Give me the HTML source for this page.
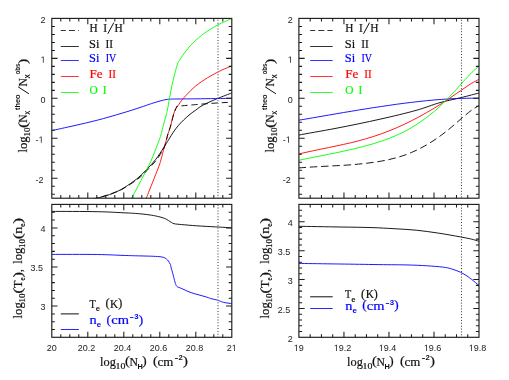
<!DOCTYPE html>
<html><head><meta charset="utf-8"><title>plot</title>
<style>html,body{margin:0;padding:0;background:#fff}svg{display:block;will-change:transform}text{font-family:"Liberation Sans",sans-serif}.s{font-family:"Liberation Serif",serif;stroke-width:0.2px;paint-order:stroke}.b{font-family:"Liberation Sans",sans-serif;font-weight:bold}.n{font-family:"Liberation Sans",sans-serif}</style></head><body>
<svg width="509" height="380" viewBox="0 0 509 380">
<rect width="509" height="380" fill="#fff"/>
<clipPath id="c1"><rect x="51.8" y="18.4" width="180.0" height="179.8"/></clipPath>
<clipPath id="c2"><rect x="51.8" y="204.4" width="180.0" height="132.9"/></clipPath>
<clipPath id="c3"><rect x="298.9" y="18.4" width="180.1" height="179.8"/></clipPath>
<clipPath id="c4"><rect x="298.9" y="204.4" width="180.1" height="132.9"/></clipPath>
<path d="M92.0 199.8C92.8 199.5 95.7 198.6 97.0 198.2C98.3 197.8 97.9 198.0 100.0 197.4C102.1 196.8 106.3 195.7 109.5 194.6C112.7 193.5 116.3 191.8 118.9 190.6C121.5 189.4 122.0 189.1 125.0 187.2C128.0 185.2 133.2 181.8 136.8 178.9C140.4 176.0 143.1 173.2 146.3 169.9C149.5 166.6 152.9 163.0 155.8 159.3C158.7 155.6 161.5 150.9 163.7 147.6C165.8 144.3 167.1 142.2 168.7 139.6C170.3 137.0 171.8 134.4 173.4 132.1C175.0 129.8 176.4 127.8 178.1 125.8C179.8 123.8 181.7 121.8 183.7 119.9C185.7 118.0 188.0 116.0 190.0 114.3C192.0 112.6 193.7 111.6 195.9 110.0C198.1 108.4 199.8 106.8 203.4 104.9C207.0 103.0 212.6 100.6 217.3 98.6C222.1 96.6 229.5 93.9 231.9 92.9" fill="none" stroke="#000" stroke-width="0.90" clip-path="url(#c1)"/>
<path d="M51.7 130.6C55.4 129.8 66.4 127.4 74.0 125.7C81.6 124.0 89.3 122.3 97.3 120.2C105.3 118.1 114.9 115.3 122.0 113.2C129.1 111.1 135.1 109.1 140.0 107.5C144.9 105.9 148.1 104.7 151.4 103.6C154.7 102.5 157.6 101.7 160.0 101.0C162.4 100.3 164.3 99.9 166.0 99.6C167.7 99.3 168.0 99.2 170.3 99.1C172.6 99.0 175.6 99.0 180.0 99.0C184.4 98.9 188.2 98.9 196.8 98.8C205.5 98.7 226.1 98.4 231.9 98.3" fill="none" stroke="#0000ff" stroke-width="0.90" clip-path="url(#c1)"/>
<path d="M144.9 202.0C145.2 201.3 145.6 200.0 146.4 198.0C147.2 196.0 147.9 194.0 149.5 190.0C151.1 186.0 154.2 178.4 155.8 174.2C157.4 170.0 158.5 167.4 159.3 165.0C160.2 162.6 160.1 162.8 160.9 160.0C161.7 157.2 163.1 151.5 164.0 148.0C164.9 144.5 166.0 141.4 166.6 139.2C167.2 137.0 167.0 137.0 167.6 135.0C168.2 133.0 169.2 130.6 170.2 127.3C171.2 124.0 172.6 117.9 173.4 115.0C174.2 112.1 174.6 111.3 175.2 110.0C175.8 108.7 176.2 107.9 176.8 107.0C177.4 106.1 177.9 105.6 178.7 104.6C179.4 103.6 180.4 102.0 181.3 100.8C182.2 99.6 183.2 98.5 184.4 97.2C185.6 95.9 186.7 94.6 188.2 93.1C189.7 91.6 191.6 89.5 193.3 88.0C195.0 86.5 196.4 85.4 198.3 84.0C200.2 82.6 202.5 81.0 204.6 79.6C206.7 78.2 208.7 77.1 210.9 75.8C213.1 74.5 215.6 73.2 217.9 72.0C220.2 70.8 222.5 69.8 224.8 68.8C227.1 67.8 230.7 66.4 231.9 65.9" fill="none" stroke="#ff0000" stroke-width="0.90" clip-path="url(#c1)"/>
<path d="M129.7 202.0C130.0 201.3 130.8 200.0 131.8 198.0C132.9 196.0 133.6 194.6 136.0 190.0C138.4 185.4 143.7 175.3 146.3 170.3C148.9 165.3 149.9 163.4 151.4 160.0C152.9 156.6 154.1 153.3 155.4 150.0C156.7 146.7 158.3 142.5 159.2 140.0C160.1 137.5 160.1 137.7 160.9 135.0C161.7 132.3 162.9 126.9 163.8 123.6C164.7 120.3 165.6 117.3 166.2 115.0C166.8 112.7 166.8 112.8 167.4 110.0C168.0 107.2 168.7 102.7 169.5 98.4C170.3 94.2 171.1 89.0 172.1 84.5C173.1 80.0 174.5 74.9 175.4 71.5C176.3 68.1 176.7 66.0 177.5 64.0C178.3 62.0 178.9 61.3 180.0 59.6C181.1 57.9 182.4 55.8 183.8 53.9C185.2 52.0 186.6 50.1 188.2 48.2C189.8 46.3 191.6 44.2 193.3 42.5C195.0 40.8 196.4 39.7 198.3 38.1C200.2 36.5 202.5 34.5 204.6 33.0C206.7 31.5 208.7 30.4 210.9 29.0C213.1 27.6 215.6 26.0 217.9 24.8C220.2 23.6 222.5 22.8 224.8 21.7C227.1 20.6 230.7 18.9 231.9 18.4" fill="none" stroke="#00ff00" stroke-width="0.90" clip-path="url(#c1)"/>
<path d="M92.0 199.6C92.8 199.3 95.0 198.6 97.0 198.0C99.0 197.4 100.0 197.5 103.8 196.2C107.6 194.9 114.4 193.1 120.0 190.3C125.6 187.5 132.8 182.7 137.3 179.4C141.8 176.1 143.7 173.7 146.9 170.5C150.1 167.3 153.6 163.8 156.4 160.0C159.2 156.2 162.3 151.5 164.0 148.0C165.7 144.5 166.0 141.4 166.6 139.2C167.2 137.0 167.0 137.0 167.6 135.0C168.2 133.0 169.2 130.6 170.2 127.3C171.2 124.0 172.6 117.9 173.4 115.0C174.2 112.1 174.7 111.2 175.2 110.0C175.7 108.8 175.9 108.2 176.3 107.6C176.7 107.0 175.0 106.9 177.8 106.4C180.6 105.9 186.5 105.4 193.3 104.8C200.1 104.2 212.1 103.3 218.5 102.9C224.9 102.5 229.7 102.4 231.9 102.3" fill="none" stroke="#000" stroke-width="0.90" clip-path="url(#c1)" stroke-dasharray="6.3 3.7"/>
<path d="M51.7 211.4C59.3 211.4 85.0 211.4 97.3 211.7C109.6 211.9 118.7 212.6 125.8 212.9C132.9 213.2 135.7 213.4 140.0 213.8C144.3 214.2 148.2 214.7 151.4 215.2C154.6 215.7 156.7 216.2 158.9 216.7C161.1 217.2 163.0 217.8 164.6 218.4C166.2 219.0 167.3 219.8 168.4 220.5C169.5 221.2 170.3 221.8 171.2 222.3C172.2 222.8 172.4 223.3 174.1 223.7C175.8 224.1 177.9 224.2 181.7 224.6C185.5 224.9 191.1 225.4 196.8 225.8C202.5 226.2 210.0 226.6 215.8 226.9C221.7 227.2 229.2 227.7 231.9 227.8" fill="none" stroke="#000" stroke-width="0.90" clip-path="url(#c2)"/>
<path d="M51.7 254.4C59.3 254.4 85.0 254.3 97.3 254.5C109.6 254.7 118.7 255.3 125.8 255.5C132.9 255.7 135.7 255.8 140.0 255.9C144.3 256.0 148.2 256.1 151.4 256.2C154.6 256.4 156.9 256.4 158.9 256.6C160.9 256.8 162.4 257.0 163.7 257.4C165.0 257.8 165.7 258.5 166.5 259.1C167.3 259.7 167.8 260.1 168.4 261.0C169.0 261.9 169.8 263.2 170.3 264.4C170.8 265.6 170.8 266.3 171.2 268.0C171.7 269.7 172.5 272.2 173.1 274.6C173.7 277.0 174.4 280.2 175.0 282.2C175.6 284.2 176.0 285.4 176.9 286.4C177.8 287.4 178.3 287.1 180.7 288.1C183.1 289.1 186.8 291.1 191.1 292.6C195.4 294.1 202.8 295.9 206.3 297.0C209.8 298.1 210.1 298.4 212.0 298.9C213.9 299.4 215.8 299.6 217.7 300.2C219.6 300.8 220.9 301.7 223.3 302.3C225.7 302.9 230.5 303.4 231.9 303.6" fill="none" stroke="#0000ff" stroke-width="0.90" clip-path="url(#c2)"/>
<path d="M298.5 167.9C299.8 167.8 303.5 167.6 306.0 167.4C308.5 167.2 311.1 167.1 313.6 166.9C316.1 166.8 318.6 166.6 321.1 166.5C323.6 166.4 326.1 166.2 328.6 166.1C331.1 166.0 333.6 165.8 336.1 165.7C338.6 165.6 341.1 165.5 343.6 165.3C346.1 165.2 348.7 165.0 351.2 164.8C353.7 164.6 356.2 164.3 358.7 164.1C361.2 163.8 363.7 163.6 366.2 163.3C368.7 163.0 371.3 162.7 373.8 162.3C376.3 161.9 378.8 161.6 381.3 161.1C383.8 160.6 386.3 160.2 388.8 159.6C391.3 159.0 393.8 158.4 396.3 157.7C398.8 157.0 401.4 156.3 403.9 155.4C406.4 154.5 408.9 153.6 411.4 152.5C413.9 151.4 416.4 150.3 418.9 149.1C421.4 147.8 423.9 146.5 426.4 145.0C428.9 143.5 431.5 142.0 434.0 140.3C436.5 138.6 439.0 136.8 441.5 135.0C444.0 133.2 446.5 131.2 449.0 129.2C451.5 127.2 454.0 125.0 456.5 122.8C459.0 120.6 461.6 118.3 464.1 116.2C466.6 114.1 469.1 112.0 471.6 110.2C474.1 108.4 477.9 106.3 479.1 105.5" fill="none" stroke="#000" stroke-width="0.90" clip-path="url(#c3)" stroke-dasharray="7.5 3.8"/>
<path d="M298.5 135.1C304.8 133.9 322.4 130.9 336.0 128.3C349.6 125.7 366.7 122.2 380.0 119.2C393.3 116.2 406.0 113.2 416.0 110.4C426.0 107.6 432.5 104.7 440.0 102.6C447.5 100.5 454.7 99.2 461.2 97.6C467.7 96.0 476.1 93.7 479.1 93.0" fill="none" stroke="#000" stroke-width="0.90" clip-path="url(#c3)"/>
<path d="M298.5 120.2C299.8 120.0 303.5 119.4 306.0 119.0C308.5 118.6 311.1 118.1 313.6 117.7C316.1 117.3 318.6 116.8 321.1 116.4C323.6 116.0 326.1 115.5 328.6 115.1C331.1 114.7 333.6 114.2 336.1 113.8C338.6 113.4 341.1 112.9 343.6 112.5C346.1 112.1 348.7 111.7 351.2 111.3C353.7 110.9 356.2 110.4 358.7 110.0C361.2 109.6 363.7 109.2 366.2 108.8C368.7 108.4 371.3 108.0 373.8 107.6C376.3 107.2 378.8 106.9 381.3 106.5C383.8 106.1 386.3 105.8 388.8 105.4C391.3 105.0 393.8 104.7 396.3 104.3C398.8 103.9 401.4 103.6 403.9 103.3C406.4 103.0 408.9 102.7 411.4 102.4C413.9 102.1 416.4 101.8 418.9 101.5C421.4 101.2 423.9 101.0 426.4 100.7C428.9 100.5 431.5 100.2 434.0 100.0C436.5 99.8 439.0 99.6 441.5 99.4C444.0 99.2 446.5 99.1 449.0 98.9C451.5 98.8 454.0 98.6 456.5 98.5C459.0 98.4 461.6 98.3 464.1 98.3C466.6 98.2 469.1 98.2 471.6 98.2C474.1 98.2 477.9 98.2 479.1 98.2" fill="none" stroke="#0000ff" stroke-width="0.90" clip-path="url(#c3)"/>
<path d="M298.5 154.0C299.8 153.7 303.5 152.9 306.0 152.3C308.5 151.8 311.1 151.2 313.6 150.7C316.1 150.2 318.6 149.6 321.1 149.1C323.6 148.6 326.1 148.1 328.6 147.6C331.1 147.1 333.6 146.5 336.1 146.0C338.6 145.5 341.1 145.0 343.6 144.4C346.1 143.8 348.7 143.3 351.2 142.7C353.7 142.1 356.2 141.5 358.7 140.8C361.2 140.1 363.7 139.4 366.2 138.7C368.7 138.0 371.3 137.2 373.8 136.4C376.3 135.6 378.8 134.7 381.3 133.8C383.8 132.9 386.3 132.0 388.8 131.0C391.3 130.0 393.8 129.0 396.3 127.9C398.8 126.8 401.4 125.7 403.9 124.5C406.4 123.3 408.9 122.1 411.4 120.8C413.9 119.5 416.4 118.2 418.9 116.9C421.4 115.6 423.9 114.1 426.4 112.7C428.9 111.3 431.5 109.8 434.0 108.3C436.5 106.8 439.0 105.2 441.5 103.6C444.0 102.0 446.5 100.4 449.0 98.7C451.5 97.0 454.0 95.2 456.5 93.5C459.0 91.8 461.6 90.0 464.1 88.3C466.6 86.6 469.1 84.8 471.6 83.3C474.1 81.8 477.9 80.0 479.1 79.3" fill="none" stroke="#ff0000" stroke-width="0.90" clip-path="url(#c3)"/>
<path d="M298.5 160.3C299.8 160.1 303.5 159.3 306.0 158.8C308.5 158.3 311.1 157.8 313.6 157.3C316.1 156.8 318.6 156.3 321.1 155.8C323.6 155.3 326.1 154.8 328.6 154.3C331.1 153.8 333.6 153.3 336.1 152.8C338.6 152.3 341.1 151.8 343.6 151.2C346.1 150.6 348.7 150.1 351.2 149.5C353.7 148.9 356.2 148.3 358.7 147.7C361.2 147.1 363.7 146.4 366.2 145.7C368.7 145.0 371.3 144.3 373.8 143.6C376.3 142.8 378.8 142.0 381.3 141.2C383.8 140.3 386.3 139.5 388.8 138.5C391.3 137.5 393.8 136.5 396.3 135.4C398.8 134.3 401.4 133.1 403.9 131.8C406.4 130.5 408.9 129.2 411.4 127.7C413.9 126.2 416.4 124.7 418.9 123.0C421.4 121.3 423.9 119.5 426.4 117.6C428.9 115.7 431.5 113.7 434.0 111.6C436.5 109.5 439.0 107.2 441.5 104.8C444.0 102.4 446.5 99.9 449.0 97.3C451.5 94.7 454.0 92.0 456.5 89.2C459.0 86.4 461.6 83.5 464.1 80.7C466.6 78.0 469.1 75.2 471.6 72.7C474.1 70.2 477.9 67.0 479.1 65.9" fill="none" stroke="#00ff00" stroke-width="0.90" clip-path="url(#c3)"/>
<path d="M298.7 226.3C305.6 226.4 327.8 226.8 340.0 227.0C352.2 227.2 363.0 227.3 372.0 227.6C381.0 227.9 386.7 228.3 394.1 228.7C401.5 229.1 408.8 229.5 416.2 230.2C423.6 230.9 430.9 232.0 438.3 233.1C445.7 234.2 454.9 235.9 460.4 236.9C465.9 237.9 468.3 238.4 471.4 239.1C474.5 239.8 477.6 240.9 478.9 241.3" fill="none" stroke="#000" stroke-width="0.90" clip-path="url(#c4)"/>
<path d="M298.7 263.4C310.9 263.6 354.3 264.2 372.0 264.5C389.7 264.8 395.9 264.7 405.1 264.9C414.3 265.1 420.9 265.4 427.2 265.8C433.5 266.2 438.6 266.6 442.7 267.1C446.8 267.6 448.6 268.0 451.5 268.9C454.4 269.8 457.8 271.0 460.4 272.2C463.0 273.4 465.2 274.8 467.0 276.0C468.8 277.2 469.4 277.7 471.4 279.2C473.4 280.8 477.6 284.4 478.9 285.4" fill="none" stroke="#0000ff" stroke-width="0.90" clip-path="url(#c4)"/>
<line x1="218.00" y1="19.80" x2="218.00" y2="198.20" stroke="#9a9a9a" stroke-width="2.0" stroke-dasharray="1 1.87"/>
<line x1="218.00" y1="204.70" x2="218.00" y2="337.35" stroke="#9a9a9a" stroke-width="2.0" stroke-dasharray="1 1.87"/>
<line x1="461.45" y1="19.80" x2="461.45" y2="198.20" stroke="#2a2a2a" stroke-width="1.0" stroke-dasharray="1 1.85"/>
<line x1="461.45" y1="204.70" x2="461.45" y2="337.35" stroke="#2a2a2a" stroke-width="1.0" stroke-dasharray="1 1.88"/>
<rect x="51.8" y="18.4" width="180.0" height="179.8" fill="none" stroke="#1c1c1c" stroke-width="1.15"/>
<path d="M60.80 198.20v-3.1M60.80 18.45v3.1M69.80 198.20v-3.1M69.80 18.45v3.1M78.80 198.20v-3.1M78.80 18.45v3.1M87.80 198.20v-5.7M87.80 18.45v5.7M96.80 198.20v-3.1M96.80 18.45v3.1M105.80 198.20v-3.1M105.80 18.45v3.1M114.80 198.20v-3.1M114.80 18.45v3.1M123.80 198.20v-5.7M123.80 18.45v5.7M132.80 198.20v-3.1M132.80 18.45v3.1M141.80 198.20v-3.1M141.80 18.45v3.1M150.80 198.20v-3.1M150.80 18.45v3.1M159.80 198.20v-5.7M159.80 18.45v5.7M168.80 198.20v-3.1M168.80 18.45v3.1M177.80 198.20v-3.1M177.80 18.45v3.1M186.80 198.20v-3.1M186.80 18.45v3.1M195.80 198.20v-5.7M195.80 18.45v5.7M204.80 198.20v-3.1M204.80 18.45v3.1M213.80 198.20v-3.1M213.80 18.45v3.1M222.80 198.20v-3.1M222.80 18.45v3.1M51.80 194.21h3.1M231.80 194.21h-3.1M51.80 186.22h3.1M231.80 186.22h-3.1M51.80 178.23h5.7M231.80 178.23h-5.7M51.80 170.24h3.1M231.80 170.24h-3.1M51.80 162.25h3.1M231.80 162.25h-3.1M51.80 154.26h3.1M231.80 154.26h-3.1M51.80 146.27h3.1M231.80 146.27h-3.1M51.80 138.28h5.7M231.80 138.28h-5.7M51.80 130.29h3.1M231.80 130.29h-3.1M51.80 122.31h3.1M231.80 122.31h-3.1M51.80 114.32h3.1M231.80 114.32h-3.1M51.80 106.33h3.1M231.80 106.33h-3.1M51.80 98.34h5.7M231.80 98.34h-5.7M51.80 90.35h3.1M231.80 90.35h-3.1M51.80 82.36h3.1M231.80 82.36h-3.1M51.80 74.37h3.1M231.80 74.37h-3.1M51.80 66.38h3.1M231.80 66.38h-3.1M51.80 58.39h5.7M231.80 58.39h-5.7M51.80 50.41h3.1M231.80 50.41h-3.1M51.80 42.42h3.1M231.80 42.42h-3.1M51.80 34.43h3.1M231.80 34.43h-3.1M51.80 26.44h3.1M231.80 26.44h-3.1" fill="none" stroke="#1c1c1c" stroke-width="1.05"/>
<rect x="51.8" y="204.4" width="180.0" height="132.9" fill="none" stroke="#1c1c1c" stroke-width="1.15"/>
<path d="M60.80 337.35v-3.1M60.80 204.45v3.1M69.80 337.35v-3.1M69.80 204.45v3.1M78.80 337.35v-3.1M78.80 204.45v3.1M87.80 337.35v-5.7M87.80 204.45v5.7M96.80 337.35v-3.1M96.80 204.45v3.1M105.80 337.35v-3.1M105.80 204.45v3.1M114.80 337.35v-3.1M114.80 204.45v3.1M123.80 337.35v-5.7M123.80 204.45v5.7M132.80 337.35v-3.1M132.80 204.45v3.1M141.80 337.35v-3.1M141.80 204.45v3.1M150.80 337.35v-3.1M150.80 204.45v3.1M159.80 337.35v-5.7M159.80 204.45v5.7M168.80 337.35v-3.1M168.80 204.45v3.1M177.80 337.35v-3.1M177.80 204.45v3.1M186.80 337.35v-3.1M186.80 204.45v3.1M195.80 337.35v-5.7M195.80 204.45v5.7M204.80 337.35v-3.1M204.80 204.45v3.1M213.80 337.35v-3.1M213.80 204.45v3.1M222.80 337.35v-3.1M222.80 204.45v3.1M51.80 329.53h3.1M231.80 329.53h-3.1M51.80 321.71h3.1M231.80 321.71h-3.1M51.80 313.90h3.1M231.80 313.90h-3.1M51.80 306.08h5.7M231.80 306.08h-5.7M51.80 298.26h3.1M231.80 298.26h-3.1M51.80 290.44h3.1M231.80 290.44h-3.1M51.80 282.63h3.1M231.80 282.63h-3.1M51.80 274.81h3.1M231.80 274.81h-3.1M51.80 266.99h5.7M231.80 266.99h-5.7M51.80 259.17h3.1M231.80 259.17h-3.1M51.80 251.36h3.1M231.80 251.36h-3.1M51.80 243.54h3.1M231.80 243.54h-3.1M51.80 235.72h3.1M231.80 235.72h-3.1M51.80 227.90h5.7M231.80 227.90h-5.7M51.80 220.09h3.1M231.80 220.09h-3.1M51.80 212.27h3.1M231.80 212.27h-3.1" fill="none" stroke="#1c1c1c" stroke-width="1.05"/>
<rect x="298.9" y="18.4" width="180.1" height="179.8" fill="none" stroke="#1c1c1c" stroke-width="1.15"/>
<path d="M310.20 198.20v-3.1M310.20 18.45v3.1M321.46 198.20v-3.1M321.46 18.45v3.1M332.71 198.20v-3.1M332.71 18.45v3.1M343.96 198.20v-5.7M343.96 18.45v5.7M355.22 198.20v-3.1M355.22 18.45v3.1M366.47 198.20v-3.1M366.47 18.45v3.1M377.72 198.20v-3.1M377.72 18.45v3.1M388.98 198.20v-5.7M388.98 18.45v5.7M400.23 198.20v-3.1M400.23 18.45v3.1M411.48 198.20v-3.1M411.48 18.45v3.1M422.73 198.20v-3.1M422.73 18.45v3.1M433.99 198.20v-5.7M433.99 18.45v5.7M445.24 198.20v-3.1M445.24 18.45v3.1M456.49 198.20v-3.1M456.49 18.45v3.1M467.75 198.20v-3.1M467.75 18.45v3.1M298.95 194.21h3.1M479.00 194.21h-3.1M298.95 186.22h3.1M479.00 186.22h-3.1M298.95 178.23h5.7M479.00 178.23h-5.7M298.95 170.24h3.1M479.00 170.24h-3.1M298.95 162.25h3.1M479.00 162.25h-3.1M298.95 154.26h3.1M479.00 154.26h-3.1M298.95 146.27h3.1M479.00 146.27h-3.1M298.95 138.28h5.7M479.00 138.28h-5.7M298.95 130.29h3.1M479.00 130.29h-3.1M298.95 122.31h3.1M479.00 122.31h-3.1M298.95 114.32h3.1M479.00 114.32h-3.1M298.95 106.33h3.1M479.00 106.33h-3.1M298.95 98.34h5.7M479.00 98.34h-5.7M298.95 90.35h3.1M479.00 90.35h-3.1M298.95 82.36h3.1M479.00 82.36h-3.1M298.95 74.37h3.1M479.00 74.37h-3.1M298.95 66.38h3.1M479.00 66.38h-3.1M298.95 58.39h5.7M479.00 58.39h-5.7M298.95 50.41h3.1M479.00 50.41h-3.1M298.95 42.42h3.1M479.00 42.42h-3.1M298.95 34.43h3.1M479.00 34.43h-3.1M298.95 26.44h3.1M479.00 26.44h-3.1" fill="none" stroke="#1c1c1c" stroke-width="1.05"/>
<rect x="298.9" y="204.4" width="180.1" height="132.9" fill="none" stroke="#1c1c1c" stroke-width="1.15"/>
<path d="M310.20 337.35v-3.1M310.20 204.45v3.1M321.46 337.35v-3.1M321.46 204.45v3.1M332.71 337.35v-3.1M332.71 204.45v3.1M343.96 337.35v-5.7M343.96 204.45v5.7M355.22 337.35v-3.1M355.22 204.45v3.1M366.47 337.35v-3.1M366.47 204.45v3.1M377.72 337.35v-3.1M377.72 204.45v3.1M388.98 337.35v-5.7M388.98 204.45v5.7M400.23 337.35v-3.1M400.23 204.45v3.1M411.48 337.35v-3.1M411.48 204.45v3.1M422.73 337.35v-3.1M422.73 204.45v3.1M433.99 337.35v-5.7M433.99 204.45v5.7M445.24 337.35v-3.1M445.24 204.45v3.1M456.49 337.35v-3.1M456.49 204.45v3.1M467.75 337.35v-3.1M467.75 204.45v3.1M298.95 331.57h3.1M479.00 331.57h-3.1M298.95 325.79h3.1M479.00 325.79h-3.1M298.95 320.02h3.1M479.00 320.02h-3.1M298.95 314.24h3.1M479.00 314.24h-3.1M298.95 308.46h5.7M479.00 308.46h-5.7M298.95 302.68h3.1M479.00 302.68h-3.1M298.95 296.90h3.1M479.00 296.90h-3.1M298.95 291.12h3.1M479.00 291.12h-3.1M298.95 285.35h3.1M479.00 285.35h-3.1M298.95 279.57h5.7M479.00 279.57h-5.7M298.95 273.79h3.1M479.00 273.79h-3.1M298.95 268.01h3.1M479.00 268.01h-3.1M298.95 262.23h3.1M479.00 262.23h-3.1M298.95 256.45h3.1M479.00 256.45h-3.1M298.95 250.68h5.7M479.00 250.68h-5.7M298.95 244.90h3.1M479.00 244.90h-3.1M298.95 239.12h3.1M479.00 239.12h-3.1M298.95 233.34h3.1M479.00 233.34h-3.1M298.95 227.56h3.1M479.00 227.56h-3.1M298.95 221.78h5.7M479.00 221.78h-5.7M298.95 216.01h3.1M479.00 216.01h-3.1M298.95 210.23h3.1M479.00 210.23h-3.1" fill="none" stroke="#1c1c1c" stroke-width="1.05"/>
<text x="46.70" y="351.00" font-size="9.0" fill="#222">20</text>
<text x="77.69" y="351.00" font-size="9.0" fill="#222">20.2</text>
<text x="113.69" y="351.00" font-size="9.0" fill="#222">20.4</text>
<text x="149.69" y="351.00" font-size="9.0" fill="#222">20.6</text>
<text x="185.69" y="351.00" font-size="9.0" fill="#222">20.8</text>
<text x="226.70" y="351.00" font-size="9.0" fill="#222">2</text>
<path d="M233.96 351.00L233.96 345.56L232.57 346.56L232.57 345.81L234.03 344.81L234.76 344.81L234.76 351.00Z" fill="#222"/>
<path d="M296.11 351.00L296.11 345.56L294.71 346.56L294.71 345.81L296.18 344.81L296.90 344.81L296.90 351.00Z" fill="#222"/>
<text x="298.85" y="351.00" font-size="9.0" fill="#222">9</text>
<path d="M336.11 351.00L336.11 345.56L334.71 346.56L334.71 345.81L336.17 344.81L336.90 344.81L336.90 351.00Z" fill="#222"/>
<text x="338.85" y="351.00" font-size="9.0" fill="#222">9.2</text>
<path d="M381.11 351.00L381.11 345.56L379.71 346.56L379.71 345.81L381.17 344.81L381.90 344.81L381.90 351.00Z" fill="#222"/>
<text x="383.85" y="351.00" font-size="9.0" fill="#222">9.4</text>
<path d="M426.11 351.00L426.11 345.56L424.71 346.56L424.71 345.81L426.17 344.81L426.90 344.81L426.90 351.00Z" fill="#222"/>
<text x="428.85" y="351.00" font-size="9.0" fill="#222">9.6</text>
<path d="M471.11 351.00L471.11 345.56L469.71 346.56L469.71 345.81L471.17 344.81L471.90 344.81L471.90 351.00Z" fill="#222"/>
<text x="473.85" y="351.00" font-size="9.0" fill="#222">9.8</text>
<text x="40.60" y="22.85" font-size="9.0" fill="#222">2</text>
<path d="M42.86 62.79L42.86 57.36L41.46 58.36L41.46 57.61L42.93 56.60L43.65 56.60L43.65 62.79Z" fill="#222"/>
<text x="40.60" y="102.74" font-size="9.0" fill="#222">0</text>
<text x="35.59" y="142.68" font-size="9.0" fill="#222">-</text>
<path d="M40.85 142.68L40.85 137.25L39.45 138.24L39.45 137.50L40.92 136.49L41.65 136.49L41.65 142.68Z" fill="#222"/>
<text x="35.59" y="182.63" font-size="9.0" fill="#222">-2</text>
<text x="287.75" y="22.85" font-size="9.0" fill="#222">2</text>
<path d="M290.01 62.79L290.01 57.36L288.61 58.36L288.61 57.61L290.08 56.60L290.80 56.60L290.80 62.79Z" fill="#222"/>
<text x="287.75" y="102.74" font-size="9.0" fill="#222">0</text>
<text x="282.74" y="142.68" font-size="9.0" fill="#222">-</text>
<path d="M288.00 142.68L288.00 137.25L286.60 138.24L286.60 137.50L288.07 136.49L288.80 136.49L288.80 142.68Z" fill="#222"/>
<text x="282.74" y="182.63" font-size="9.0" fill="#222">-2</text>
<text x="40.60" y="232.30" font-size="9.0" fill="#222">4</text>
<text x="30.59" y="271.39" font-size="9.0" fill="#222">3.5</text>
<text x="40.60" y="310.48" font-size="9.0" fill="#222">3</text>
<text x="287.75" y="226.18" font-size="9.0" fill="#222">4</text>
<text x="277.74" y="255.08" font-size="9.0" fill="#222">3.5</text>
<text x="287.75" y="283.97" font-size="9.0" fill="#222">3</text>
<text x="277.74" y="312.86" font-size="9.0" fill="#222">2.5</text>
<text x="287.75" y="341.75" font-size="9.0" fill="#222">2</text>
<line x1="60.8" y1="30.5" x2="78.8" y2="30.5" stroke="#000" stroke-width="0.80" stroke-dasharray="6 3.1" stroke-dashoffset="1"/>
<line x1="60.8" y1="46.5" x2="78.8" y2="46.5" stroke="#000" stroke-width="0.80"/>
<line x1="60.8" y1="60.5" x2="78.8" y2="60.5" stroke="#0000ff" stroke-width="0.80"/>
<line x1="60.8" y1="76.5" x2="78.8" y2="76.5" stroke="#ff0000" stroke-width="0.80"/>
<line x1="60.8" y1="92.5" x2="78.8" y2="92.5" stroke="#00ff00" stroke-width="0.80"/>
<text class="s" transform="translate(89.57 31.90) scale(0.957 1)" font-size="11.80" fill="#111" stroke="#111">H</text>
<text class="s" transform="translate(103.29 31.90) scale(0.971 1)" font-size="11.80" fill="#111" stroke="#111">I</text>
<line x1="107.8" y1="33.8" x2="113.8" y2="22.6" stroke="#111" stroke-width="1"/>
<text class="s" transform="translate(114.47 31.90) scale(0.970 1)" font-size="11.80" fill="#111" stroke="#111">H</text>
<text class="s" transform="translate(89.07 47.70) scale(1.054 1)" font-size="11.80" fill="#111" stroke="#111">Si</text>
<text class="s" transform="translate(105.49 47.70) scale(0.955 1)" font-size="11.80" fill="#111" stroke="#111">II</text>
<text class="s" transform="translate(89.07 61.80) scale(1.054 1)" font-size="11.80" fill="#0000ff" stroke="#0000ff" stroke-width="0.08">Si</text>
<text class="s" transform="translate(105.74 61.80) scale(0.849 1)" font-size="11.80" fill="#0000ff" stroke="#0000ff" stroke-width="0.08">IV</text>
<text class="s" transform="translate(89.52 77.90) scale(1.113 1)" font-size="11.80" fill="#ff0000" stroke="#ff0000" stroke-width="0.08">Fe</text>
<text class="s" transform="translate(108.60 77.90) scale(0.940 1)" font-size="11.80" fill="#ff0000" stroke="#ff0000" stroke-width="0.08">II</text>
<text class="s" transform="translate(89.43 93.70) scale(0.966 1)" font-size="11.80" fill="#00ff00" stroke="#00ff00" stroke-width="0.08">O</text>
<text class="s" transform="translate(102.69 93.70) scale(0.971 1)" font-size="11.80" fill="#00ff00" stroke="#00ff00" stroke-width="0.08">I</text>
<line x1="310.2" y1="30.5" x2="332.7" y2="30.5" stroke="#000" stroke-width="0.80" stroke-dasharray="6 3.1" stroke-dashoffset="1"/>
<line x1="310.2" y1="46.5" x2="332.7" y2="46.5" stroke="#000" stroke-width="0.80"/>
<line x1="310.2" y1="60.5" x2="332.7" y2="60.5" stroke="#0000ff" stroke-width="0.80"/>
<line x1="310.2" y1="76.5" x2="332.7" y2="76.5" stroke="#ff0000" stroke-width="0.80"/>
<line x1="310.2" y1="92.5" x2="332.7" y2="92.5" stroke="#00ff00" stroke-width="0.80"/>
<text class="s" transform="translate(345.27 31.90) scale(0.957 1)" font-size="11.80" fill="#111" stroke="#111">H</text>
<text class="s" transform="translate(358.99 31.90) scale(0.971 1)" font-size="11.80" fill="#111" stroke="#111">I</text>
<line x1="363.5" y1="33.8" x2="369.5" y2="22.6" stroke="#111" stroke-width="1"/>
<text class="s" transform="translate(370.17 31.90) scale(0.970 1)" font-size="11.80" fill="#111" stroke="#111">H</text>
<text class="s" transform="translate(344.77 47.70) scale(1.054 1)" font-size="11.80" fill="#111" stroke="#111">Si</text>
<text class="s" transform="translate(361.19 47.70) scale(0.955 1)" font-size="11.80" fill="#111" stroke="#111">II</text>
<text class="s" transform="translate(344.77 61.80) scale(1.054 1)" font-size="11.80" fill="#0000ff" stroke="#0000ff" stroke-width="0.08">Si</text>
<text class="s" transform="translate(361.44 61.80) scale(0.849 1)" font-size="11.80" fill="#0000ff" stroke="#0000ff" stroke-width="0.08">IV</text>
<text class="s" transform="translate(345.22 77.90) scale(1.113 1)" font-size="11.80" fill="#ff0000" stroke="#ff0000" stroke-width="0.08">Fe</text>
<text class="s" transform="translate(364.30 77.90) scale(0.940 1)" font-size="11.80" fill="#ff0000" stroke="#ff0000" stroke-width="0.08">II</text>
<text class="s" transform="translate(345.13 93.70) scale(0.966 1)" font-size="11.80" fill="#00ff00" stroke="#00ff00" stroke-width="0.08">O</text>
<text class="s" transform="translate(358.39 93.70) scale(0.971 1)" font-size="11.80" fill="#00ff00" stroke="#00ff00" stroke-width="0.08">I</text>
<line x1="60.8" y1="313.9" x2="78.8" y2="313.9" stroke="#000" stroke-width="0.95"/>
<line x1="60.8" y1="329.5" x2="78.8" y2="329.5" stroke="#0000ff" stroke-width="0.85"/>
<text class="s" transform="translate(89.52 307.80) scale(0.868 1)" font-size="11.80" fill="#111" stroke="#111">T</text>
<text class="b" transform="translate(95.70 310.90) scale(1.095 1)" font-size="7.00" fill="#111" stroke="none">e</text>
<text class="s" transform="translate(105.45 307.30) scale(0.978 1)" font-size="12.74" fill="#111" stroke="#111">(</text>
<text class="s" transform="translate(110.07 307.80) scale(0.968 1)" font-size="11.80" fill="#111" stroke="#111">K</text>
<text class="s" transform="translate(118.21 307.30) scale(0.947 1)" font-size="12.74" fill="#111" stroke="#111">)</text>
<text class="s" transform="translate(89.57 324.20) scale(1.101 1)" font-size="12.98" fill="#0000ff" stroke="#0000ff" stroke-width="0.08">n</text>
<text class="b" transform="translate(96.79 327.30) scale(1.124 1)" font-size="7.00" fill="#0000ff" stroke="none" stroke-width="0.08">e</text>
<text class="s" transform="translate(106.62 323.70) scale(1.039 1)" font-size="12.74" fill="#0000ff" stroke="#0000ff" stroke-width="0.08">(</text>
<text class="s" transform="translate(111.25 324.20) scale(1.115 1)" font-size="12.98" fill="#0000ff" stroke="#0000ff" stroke-width="0.08">cm</text>
<text class="b" transform="translate(129.58 318.80) scale(1.785 1)" font-size="7.50" fill="#0000ff" stroke="none" stroke-width="0.08">-</text>
<text class="b" transform="translate(134.22 318.80) scale(1.189 1)" font-size="6.60" fill="#0000ff" stroke="none" stroke-width="0.08">3</text>
<text class="s" transform="translate(138.67 323.70) scale(1.039 1)" font-size="12.74" fill="#0000ff" stroke="#0000ff" stroke-width="0.08">)</text>
<line x1="310.2" y1="296.8" x2="332.7" y2="296.8" stroke="#000" stroke-width="0.95"/>
<line x1="310.2" y1="308.5" x2="332.7" y2="308.5" stroke="#0000ff" stroke-width="0.85"/>
<text class="s" transform="translate(345.12 298.40) scale(0.868 1)" font-size="11.80" fill="#111" stroke="#111">T</text>
<text class="b" transform="translate(351.30 301.50) scale(1.095 1)" font-size="7.00" fill="#111" stroke="none">e</text>
<text class="s" transform="translate(361.05 297.90) scale(0.978 1)" font-size="12.74" fill="#111" stroke="#111">(</text>
<text class="s" transform="translate(365.67 298.40) scale(0.968 1)" font-size="11.80" fill="#111" stroke="#111">K</text>
<text class="s" transform="translate(373.81 297.90) scale(0.947 1)" font-size="12.74" fill="#111" stroke="#111">)</text>
<text class="s" transform="translate(345.17 309.90) scale(1.101 1)" font-size="12.98" fill="#0000ff" stroke="#0000ff" stroke-width="0.08">n</text>
<text class="b" transform="translate(352.39 313.00) scale(1.124 1)" font-size="7.00" fill="#0000ff" stroke="none" stroke-width="0.08">e</text>
<text class="s" transform="translate(362.22 309.40) scale(1.039 1)" font-size="12.74" fill="#0000ff" stroke="#0000ff" stroke-width="0.08">(</text>
<text class="s" transform="translate(366.85 309.90) scale(1.115 1)" font-size="12.98" fill="#0000ff" stroke="#0000ff" stroke-width="0.08">cm</text>
<text class="b" transform="translate(385.18 304.50) scale(1.785 1)" font-size="7.50" fill="#0000ff" stroke="none" stroke-width="0.08">-</text>
<text class="b" transform="translate(389.82 304.50) scale(1.189 1)" font-size="6.60" fill="#0000ff" stroke="none" stroke-width="0.08">3</text>
<text class="s" transform="translate(394.27 309.40) scale(1.039 1)" font-size="12.74" fill="#0000ff" stroke="#0000ff" stroke-width="0.08">)</text>
<text class="s" transform="translate(100.05 365.70) scale(0.936 1)" font-size="13.20" fill="#111" stroke="#111">log</text>
<text class="s" transform="translate(115.54 368.70) scale(1.295 1)" font-size="7.60" fill="#111" stroke="#111">10</text>
<text class="s" transform="translate(124.97 365.20) scale(1.112 1)" font-size="12.96" fill="#111" stroke="#111">(</text>
<text class="s" transform="translate(129.46 365.70) scale(0.970 1)" font-size="12.00" fill="#111" stroke="#111">N</text>
<text class="b" transform="translate(137.41 368.70) scale(1.143 1)" font-size="6.40" fill="#111" stroke="none">H</text>
<text class="s" transform="translate(142.27 365.20) scale(1.021 1)" font-size="12.96" fill="#111" stroke="#111">)</text>
<text class="s" transform="translate(153.08 365.20) scale(1.082 1)" font-size="12.96" fill="#111" stroke="#111">(</text>
<text class="s" transform="translate(157.41 365.70) scale(0.979 1)" font-size="13.20" fill="#111" stroke="#111">cm</text>
<text class="b" transform="translate(174.54 360.00) scale(1.575 1)" font-size="7.50" fill="#111" stroke="none">-</text>
<text class="b" transform="translate(178.43 360.00) scale(1.164 1)" font-size="6.60" fill="#111" stroke="none">2</text>
<text class="s" transform="translate(183.02 365.20) scale(1.142 1)" font-size="12.96" fill="#111" stroke="#111">)</text>
<text class="s" transform="translate(347.05 365.70) scale(0.936 1)" font-size="13.20" fill="#111" stroke="#111">log</text>
<text class="s" transform="translate(362.54 368.70) scale(1.295 1)" font-size="7.60" fill="#111" stroke="#111">10</text>
<text class="s" transform="translate(371.97 365.20) scale(1.112 1)" font-size="12.96" fill="#111" stroke="#111">(</text>
<text class="s" transform="translate(376.46 365.70) scale(0.970 1)" font-size="12.00" fill="#111" stroke="#111">N</text>
<text class="b" transform="translate(384.41 368.70) scale(1.143 1)" font-size="6.40" fill="#111" stroke="none">H</text>
<text class="s" transform="translate(389.27 365.20) scale(1.021 1)" font-size="12.96" fill="#111" stroke="#111">)</text>
<text class="s" transform="translate(400.08 365.20) scale(1.082 1)" font-size="12.96" fill="#111" stroke="#111">(</text>
<text class="s" transform="translate(404.41 365.70) scale(0.979 1)" font-size="13.20" fill="#111" stroke="#111">cm</text>
<text class="b" transform="translate(421.54 360.00) scale(1.575 1)" font-size="7.50" fill="#111" stroke="none">-</text>
<text class="b" transform="translate(425.43 360.00) scale(1.164 1)" font-size="6.60" fill="#111" stroke="none">2</text>
<text class="s" transform="translate(430.02 365.20) scale(1.142 1)" font-size="12.96" fill="#111" stroke="#111">)</text>
<text class="s" transform="translate(27.20 152.56) rotate(-90) scale(0.966 1)" font-size="13.20" fill="#111" stroke="#111">log</text>
<text class="s" transform="translate(30.30 136.47) rotate(-90) scale(1.159 1)" font-size="7.60" fill="#111" stroke="#111">10</text>
<text class="s" transform="translate(26.70 128.07) rotate(-90) scale(1.352 1)" font-size="12.96" fill="#111" stroke="#111">(</text>
<text class="s" transform="translate(27.20 122.73) rotate(-90) scale(0.957 1)" font-size="12.00" fill="#111" stroke="#111">N</text>
<text class="b" transform="translate(30.30 114.65) rotate(-90) scale(0.910 1)" font-size="6.60" fill="#111" stroke="none">X</text>
<text class="b" transform="translate(20.20 110.09) rotate(-90) scale(1.092 1)" font-size="6.80" fill="#111" stroke="none">theo</text>
<line x1="28.9" y1="93.8" x2="18.1" y2="86.8" stroke="#111" stroke-width="1"/>
<text class="s" transform="translate(27.20 86.53) rotate(-90) scale(0.957 1)" font-size="12.00" fill="#111" stroke="#111">N</text>
<text class="b" transform="translate(30.30 78.46) rotate(-90) scale(0.957 1)" font-size="6.60" fill="#111" stroke="none">X</text>
<text class="b" transform="translate(20.20 74.34) rotate(-90) scale(0.892 1)" font-size="6.80" fill="#111" stroke="none">obs</text>
<text class="s" transform="translate(26.70 64.01) rotate(-90) scale(1.232 1)" font-size="12.96" fill="#111" stroke="#111">)</text>
<text class="s" transform="translate(274.20 152.56) rotate(-90) scale(0.966 1)" font-size="13.20" fill="#111" stroke="#111">log</text>
<text class="s" transform="translate(277.30 136.47) rotate(-90) scale(1.159 1)" font-size="7.60" fill="#111" stroke="#111">10</text>
<text class="s" transform="translate(273.70 128.07) rotate(-90) scale(1.352 1)" font-size="12.96" fill="#111" stroke="#111">(</text>
<text class="s" transform="translate(274.20 122.73) rotate(-90) scale(0.957 1)" font-size="12.00" fill="#111" stroke="#111">N</text>
<text class="b" transform="translate(277.30 114.65) rotate(-90) scale(0.910 1)" font-size="6.60" fill="#111" stroke="none">X</text>
<text class="b" transform="translate(267.20 110.09) rotate(-90) scale(1.092 1)" font-size="6.80" fill="#111" stroke="none">theo</text>
<line x1="275.9" y1="93.8" x2="265.1" y2="86.8" stroke="#111" stroke-width="1"/>
<text class="s" transform="translate(274.20 86.53) rotate(-90) scale(0.957 1)" font-size="12.00" fill="#111" stroke="#111">N</text>
<text class="b" transform="translate(277.30 78.46) rotate(-90) scale(0.957 1)" font-size="6.60" fill="#111" stroke="none">X</text>
<text class="b" transform="translate(267.20 74.34) rotate(-90) scale(0.892 1)" font-size="6.80" fill="#111" stroke="none">obs</text>
<text class="s" transform="translate(273.70 64.01) rotate(-90) scale(1.232 1)" font-size="12.96" fill="#111" stroke="#111">)</text>
<text class="s" transform="translate(22.00 318.45) rotate(-90) scale(0.960 1)" font-size="13.20" fill="#111" stroke="#111">log</text>
<text class="s" transform="translate(25.10 302.59) rotate(-90) scale(1.189 1)" font-size="7.60" fill="#111" stroke="#111">10</text>
<text class="s" transform="translate(21.50 293.79) rotate(-90) scale(1.382 1)" font-size="12.96" fill="#111" stroke="#111">(</text>
<text class="s" transform="translate(22.00 288.33) rotate(-90) scale(1.056 1)" font-size="12.00" fill="#111" stroke="#111">T</text>
<text class="b" transform="translate(25.10 280.75) rotate(-90) scale(0.917 1)" font-size="7.00" fill="#111" stroke="none">e</text>
<text class="s" transform="translate(21.50 277.54) rotate(-90) scale(1.292 1)" font-size="12.96" fill="#111" stroke="#111">)</text>
<text class="s" transform="translate(22.00 272.21) rotate(-90) scale(1.119 1)" font-size="12.00" fill="#111" stroke="#111">,</text>
<text class="s" transform="translate(22.00 263.85) rotate(-90) scale(0.960 1)" font-size="13.20" fill="#111" stroke="#111">log</text>
<text class="s" transform="translate(25.10 247.99) rotate(-90) scale(1.189 1)" font-size="7.60" fill="#111" stroke="#111">10</text>
<text class="s" transform="translate(21.50 239.19) rotate(-90) scale(1.382 1)" font-size="12.96" fill="#111" stroke="#111">(</text>
<text class="s" transform="translate(22.00 233.82) rotate(-90) scale(1.066 1)" font-size="13.20" fill="#111" stroke="#111">n</text>
<text class="b" transform="translate(25.10 226.96) rotate(-90) scale(0.947 1)" font-size="7.00" fill="#111" stroke="none">e</text>
<text class="s" transform="translate(21.50 223.78) rotate(-90) scale(1.382 1)" font-size="12.96" fill="#111" stroke="#111">)</text>
<text class="s" transform="translate(269.00 318.45) rotate(-90) scale(0.960 1)" font-size="13.20" fill="#111" stroke="#111">log</text>
<text class="s" transform="translate(272.10 302.59) rotate(-90) scale(1.189 1)" font-size="7.60" fill="#111" stroke="#111">10</text>
<text class="s" transform="translate(268.50 293.79) rotate(-90) scale(1.382 1)" font-size="12.96" fill="#111" stroke="#111">(</text>
<text class="s" transform="translate(269.00 288.33) rotate(-90) scale(1.056 1)" font-size="12.00" fill="#111" stroke="#111">T</text>
<text class="b" transform="translate(272.10 280.75) rotate(-90) scale(0.917 1)" font-size="7.00" fill="#111" stroke="none">e</text>
<text class="s" transform="translate(268.50 277.54) rotate(-90) scale(1.292 1)" font-size="12.96" fill="#111" stroke="#111">)</text>
<text class="s" transform="translate(269.00 272.21) rotate(-90) scale(1.119 1)" font-size="12.00" fill="#111" stroke="#111">,</text>
<text class="s" transform="translate(269.00 263.85) rotate(-90) scale(0.960 1)" font-size="13.20" fill="#111" stroke="#111">log</text>
<text class="s" transform="translate(272.10 247.99) rotate(-90) scale(1.189 1)" font-size="7.60" fill="#111" stroke="#111">10</text>
<text class="s" transform="translate(268.50 239.19) rotate(-90) scale(1.382 1)" font-size="12.96" fill="#111" stroke="#111">(</text>
<text class="s" transform="translate(269.00 233.82) rotate(-90) scale(1.066 1)" font-size="13.20" fill="#111" stroke="#111">n</text>
<text class="b" transform="translate(272.10 226.96) rotate(-90) scale(0.947 1)" font-size="7.00" fill="#111" stroke="none">e</text>
<text class="s" transform="translate(268.50 223.78) rotate(-90) scale(1.382 1)" font-size="12.96" fill="#111" stroke="#111">)</text>
</svg></body></html>
